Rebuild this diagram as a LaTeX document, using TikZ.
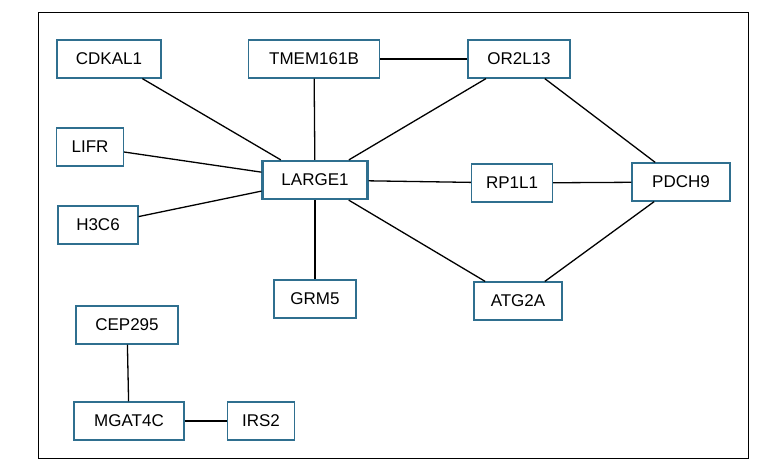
\documentclass[tikz,border=0pt]{standalone}
\usepackage{fontspec}
\setmainfont{Liberation Sans}
\usetikzlibrary{positioning}
\definecolor{boxblue}{HTML}{2F6F8F}
\tikzset{gene/.style={rectangle, draw=boxblue, line width=1.2pt, minimum height=38pt, inner xsep=8pt, font=\fontsize{17}{20}\selectfont},
         hub/.style={gene, line width=2.2pt},
         link/.style={line width=1.3pt}}
\begin{document}
\begin{tikzpicture}[x=1pt,y=-1pt]
\useasboundingbox (0,0) rectangle (768,461);
\draw[line width=0.8pt] (38,12) rectangle (748,458);
% genes
\node (cdkal) [gene, minimum width=104pt] at (109,59) {CDKAL1};
\node (tmem) [gene, minimum width=131pt] at (314,59) {TMEM161B};
\node (or2l) [gene, minimum width=102pt] at (519,59) {OR2L13};
\node (lifr) [gene, minimum width=67pt] at (90,147) {LIFR};
\node (large) [hub, minimum width=105pt] at (315,180) {LARGE1};
\node (rp1l) [gene, minimum width=81pt] at (512,183) {RP1L1};
\node (pdch) [gene, minimum width=98pt] at (681,182) {PDCH9};
\node (h3c) [gene, minimum width=80pt] at (98,225) {H3C6};
\node (grm) [gene, minimum width=82pt] at (315,299) {GRM5};
\node (atg) [gene, minimum width=88pt] at (518,301) {ATG2A};
\node (cep) [gene, minimum width=102pt] at (127,325) {CEP295};
\node (mgat) [gene, minimum width=110pt] at (129,421) {MGAT4C};
\node (irs) [gene, minimum width=67pt] at (261,421) {IRS2};
% interactions
\draw[link] (cdkal) -- (large);
\draw[link] (lifr) -- (large);
\draw[link] (h3c) -- (large);
\draw[link] (tmem) -- (large);
\draw[link] (grm) -- (large);
\draw[link] (tmem) -- (or2l);
\draw[link] (or2l) -- (large);
\draw[link] (large) -- (rp1l);
\draw[link] (rp1l) -- (pdch);
\draw[link] (or2l) -- (pdch);
\draw[link] (large) -- (atg);
\draw[link] (atg) -- (pdch);
\draw[link] (cep) -- (mgat);
\draw[link] (mgat) -- (irs);
\end{tikzpicture}
\end{document}
